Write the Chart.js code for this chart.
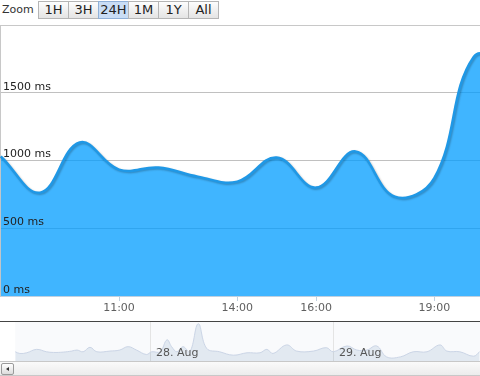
<!DOCTYPE html>
<html>
<head>
<meta charset="utf-8">
<script src="https://cdn.jsdelivr.net/npm/chart.js@4.4.1/dist/chart.umd.min.js"></script>
<style>
  body { margin: 0; background: #fff; font-family: 'DejaVu Sans', Verdana, sans-serif; }
  #wrap { position: relative; width: 480px; height: 376px; overflow: hidden; }
  #zoomLabel { position: absolute; left: 2px; top: 3px; font-size: 11px; color: #333; }
  .btn { position: absolute; top: 1px; width: 31px; height: 18px; box-sizing: border-box;
         border: 1px solid #b5b5b5; background: linear-gradient(#fdfdfd, #e4e4e4);
         font-size: 13px; line-height: 16px; text-align: center; color: #222; }
  .btn.sel { background: #c9ddf5; border-color: #8fb0d8; }
  #main { position: absolute; left: 0; top: 25px; }
  #nav { position: absolute; left: 0; top: 321px; }
  #scroll { position: absolute; left: 0; top: 361px; width: 480px; height: 15px; box-sizing: border-box;
            border-top: 1px solid #c8c8c8; border-bottom: 1px solid #c8c8c8;
            background: linear-gradient(#fafafa, #ececec); }
  #arrowBtn { position: absolute; left: 1px; top: 1px; width: 13px; height: 12px; box-sizing: border-box;
              border: 1px solid #9a9a9a; border-radius: 2px; background: linear-gradient(#fff, #dcdcdc); }
  #arrowBtn:after { content: ''; position: absolute; left: 4px; top: 3px; border-style: solid;
                    border-width: 2.5px 3px 2.5px 0; border-color: transparent #333 transparent transparent; }
</style>
</head>
<body>
<div id="wrap">
  <div id="zoomLabel">Zoom</div>
  <div id="buttons"></div>
  <canvas id="main" width="480" height="296"></canvas>
  <canvas id="nav" width="480" height="40"></canvas>
  <div id="scroll"><div id="arrowBtn"></div></div>
</div>
<script>
'use strict';

let rangeButtons = ['1H', '3H', '24H', '1M', '1Y', 'All'];
let selectedButton = '24H';

// main series: one point per hour (hour of day)
let hours = [8, 9, 10, 11, 12, 13, 14, 15, 16, 17, 18, 19, 20, 21];
let responseMs = [1030, 763, 1133, 933, 948, 881, 844, 1022, 800, 1067, 733, 870, 1765, 1700];
let yTicks = [0, 500, 1000, 1500];
let xTicks = [11, 14, 16, 19];

// navigator series: hours counted from 27 Aug 00:00
let navHours = [6.2, 6.8, 7.7, 9.0, 10.3, 11.2, 12.5, 13.6, 14.3, 15.1, 16.0, 16.9, 18.6, 19.9,
    21.0, 22.1, 23.4, 24.1, 25.2, 26.1, 26.7, 27.4, 28.2, 29.1, 30.2, 31.3, 33.0, 34.8, 36.6,
    38.3, 39.2, 40.0, 41.8, 43.1, 45.3, 47.0, 47.9, 49.7, 51.0, 52.3, 53.6, 54.9, 56.7, 58.4,
    60.2, 61.9, 62.8, 64.5, 66.3, 67.1];
let navMs = [540, 440, 480, 680, 540, 500, 520, 580, 640, 540, 800, 540, 580, 640,
    840, 640, 380, 540, 540, 1240, 840, 540, 840, 540, 2180, 740, 540, 340, 480,
    480, 680, 440, 940, 580, 580, 780, 540, 880, 640, 640, 880, 240, 240, 540,
    540, 940, 580, 540, 280, 540];
let navTicks = [24, 48];
let navLabels = ['28. Aug', '29. Aug'];

const buttonBox = document.getElementById('buttons');
for (let i = 0; i < rangeButtons.length; i++) {
    let b = document.createElement('div');
    b.className = 'btn' + (rangeButtons[i] === selectedButton ? ' sel' : '');
    b.style.left = (38 + i * 30) + 'px';
    b.textContent = rangeButtons[i];
    buttonBox.appendChild(b);
}

Chart.defaults.font.family = "'DejaVu Sans', Verdana, sans-serif";
Chart.defaults.font.size = 11;

function pad(n) {
    return (n < 10 ? '0' : '') + n;
}

// no extra room for edge labels
function noPad(axis) {
    axis.paddingTop = 0;
    axis.paddingBottom = 0;
    axis.paddingLeft = 0;
    axis.paddingRight = 0;
}

// top border of the plot area
const plotBorder = {
    id: 'plotBorder',
    afterDraw(chart) {
        const a = chart.chartArea;
        const ctx = chart.ctx;
        ctx.save();
        ctx.strokeStyle = '#c8c8c8';
        ctx.lineWidth = 1;
        ctx.beginPath();
        ctx.moveTo(a.left, a.top + 0.5);
        ctx.lineTo(a.right, a.top + 0.5);
        ctx.stroke();
        ctx.restore();
    }
};
// soft shadow under the line
const lineShadow = {
    id: 'lineShadow',
    beforeDatasetDraw(chart) {
        const ctx = chart.ctx;
        ctx.save();
        ctx.shadowColor = 'rgba(0,0,0,0.25)';
        ctx.shadowOffsetY = 1;
        ctx.shadowOffsetX = 1;
        ctx.shadowBlur = 2;
    },
    afterDatasetDraw(chart) {
        chart.ctx.restore();
    }
};

new Chart(document.getElementById('main'), {
    type: 'line',
    data: {
        datasets: [{
            data: hours.map((h, i) => ({ x: h, y: responseMs[i] })),
            borderColor: '#1f98e6',
            borderWidth: 2.5,
            backgroundColor: 'rgba(0, 156, 255, 0.75)',
            fill: 'origin',
            tension: 0.4,
            pointRadius: 0
        }]
    },
    options: {
        responsive: false,
        animation: false,
        devicePixelRatio: 1,
        layout: { padding: 0 },
        plugins: { legend: { display: false }, tooltip: { enabled: false } },
        scales: {
            x: {
                type: 'linear',
                min: 7.98,
                max: 20.16,
                afterBuildTicks: axis => { axis.ticks = xTicks.map(v => ({ value: v })); },
                afterFit: axis => { axis.height = 25; noPad(axis); },
                ticks: {
                    autoSkip: false,
                    maxRotation: 0,
                    padding: 1,
                    color: '#606060',
                    callback: v => pad(v) + ':00'
                },
                grid: { drawOnChartArea: false, drawTicks: true, tickLength: 5, color: '#c0d0e0' },
                border: { color: '#c0d0e0' }
            },
            y: {
                min: 0,
                max: 2000,
                afterBuildTicks: axis => { axis.ticks = yTicks.map(v => ({ value: v })); },
                afterFit: axis => { axis.width = 0; noPad(axis); },
                ticks: {
                    mirror: true,
                    z: 1,
                    padding: 3,
                    labelOffset: -6,
                    color: '#222',
                    callback: v => v + ' ms'
                },
                grid: { color: '#c0c0c0', drawTicks: false },
                border: { display: true, color: '#c8c8c8' }
            }
        }
    },
    plugins: [plotBorder, lineShadow]
});

const navExtras = {
    id: 'navExtras',
    beforeDraw(chart) {
        const a = chart.chartArea;
        const ctx = chart.ctx;
        const x0 = chart.scales.x.getPixelForValue(navHours[0]);
        ctx.save();
        ctx.fillStyle = '#f9fafc';
        ctx.fillRect(x0, a.top, a.right - x0, a.bottom - a.top);
        ctx.restore();
    },
    afterDraw(chart) {
        const a = chart.chartArea;
        const ctx = chart.ctx;
        const xs = chart.scales.x;
        ctx.save();
        ctx.font = "11px 'DejaVu Sans', Verdana, sans-serif";
        ctx.fillStyle = '#555';
        ctx.textBaseline = 'middle';
        for (let i = 0; i < navTicks.length; i++) {
            ctx.fillText(navLabels[i], xs.getPixelForValue(navTicks[i]) + 5, a.bottom - 8);
        }
        ctx.strokeStyle = '#444';
        ctx.lineWidth = 1;
        ctx.beginPath();
        ctx.moveTo(0, 0.5);
        ctx.lineTo(480, 0.5);
        ctx.stroke();
        ctx.restore();
    }
};

new Chart(document.getElementById('nav'), {
    type: 'line',
    data: {
        datasets: [{
            data: navHours.map((h, i) => ({ x: h, y: navMs[i] })),
            borderColor: '#cbd5e6',
            borderWidth: 1,
            backgroundColor: 'rgba(69, 114, 167, 0.12)',
            fill: 'origin',
            tension: 0.4,
            pointRadius: 0
        }]
    },
    options: {
        responsive: false,
        animation: false,
        devicePixelRatio: 1,
        layout: { padding: 0 },
        plugins: { legend: { display: false }, tooltip: { enabled: false } },
        scales: {
            x: {
                type: 'linear',
                min: 4.2,
                max: 67.15,
                afterBuildTicks: axis => { axis.ticks = navTicks.map(v => ({ value: v })); },
                afterFit: axis => { axis.height = 0; noPad(axis); },
                ticks: { display: false },
                grid: { color: '#e4e4e4', drawTicks: false },
                border: { display: false }
            },
            y: {
                display: false,
                min: 0,
                max: 2340
            }
        }
    },
    plugins: [navExtras]
});
</script>
</body>
</html>
